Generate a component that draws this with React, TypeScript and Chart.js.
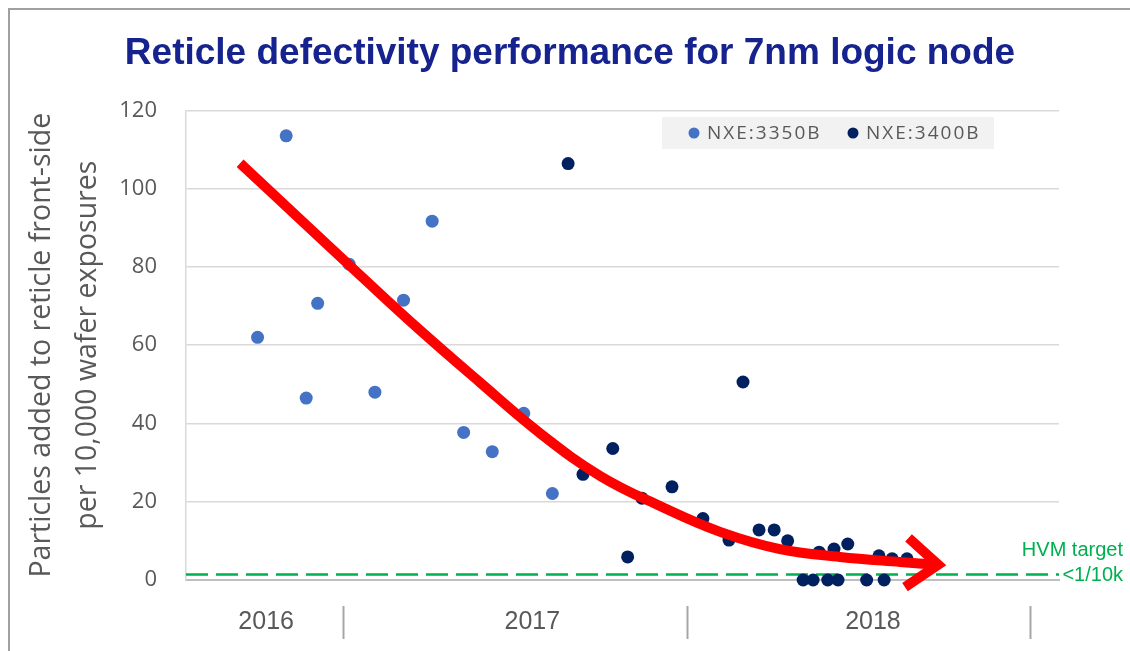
import React, { useEffect, useRef } from 'react';
import { Chart, registerables } from 'chart.js';

Chart.register(...registerables);

// ---------- data (x = months since Jan 2016) ----------
const TITLE = 'Reticle defectivity performance for 7nm logic node';
const Y_TITLE = ['Particles added to reticle front-side', 'per 10,000 wafer exposures'];
const SERIES_NAMES = ['NXE:3350B', 'NXE:3400B'];
const YEAR_LABELS = ['2016', '2017', '2018'];
const YEAR_LABEL_POS = [9.3, 18.6, 30.5];
const YEAR_BOUNDARIES = [12, 24, 36];
const X_MIN = 6.5;
const X_MAX = 37;
const Y_MIN = 0;
const Y_MAX = 120;
const Y_STEP = 20;

const NXE3350B_X = [9.0, 10.0, 10.7, 11.1, 12.2, 13.1, 14.1, 15.1, 16.2, 17.2, 18.3, 19.3];
const NXE3350B_Y = [62, 113.5, 46.5, 70.7, 80.7, 48, 71.5, 91.7, 37.7, 32.8, 42.6, 22.1];

const NXE3400B_X = [19.85, 20.37, 21.41, 21.93, 22.43, 23.48, 24.56, 25.47, 25.96, 26.52, 27.05, 27.52, 28.06, 28.41, 28.62, 28.92, 29.14, 29.28, 29.62, 30.28, 30.71, 30.89, 31.17, 31.69];
const NXE3400B_Y = [106.4, 27.0, 33.6, 5.9, 20.9, 23.8, 15.7, 10.2, 50.6, 12.8, 12.8, 10.0, 0, 0, 7.1, 0, 7.9, 0, 9.2, 0, 6.2, 0, 5.4, 5.4];

const TREND_X = [8.39, 10.48, 12.58, 14.68, 16.77, 18.87, 20.97, 23.06, 25.16, 27.25, 29.35, 31.45, 32.78];
const TREND_Y = [106.5, 92.2, 77.9, 63.8, 50.5, 37.5, 26.6, 18.9, 12.3, 7.9, 5.9, 4.6, 3.9];

const TARGET_VALUE = 1.4;
const TARGET_LABELS = ['HVM target', '<1/10k'];

// ---------- styles ----------
const C_LIGHT = '#4472c4';
const C_DARK = '#002060';
const C_RED = '#ff0000';
const C_GREEN = '#00b050';
const C_TEXT = '#595959';

const toPts = (xs: number[], ys: number[]) => xs.map((x, i) => ({ x, y: ys[i] }));

const decorPlugin = {
  id: 'decor',
  afterDatasetsDraw(chart: any) {
    const ctx = chart.ctx;
    const meta = chart.getDatasetMeta(0);
    const pts = meta.data;
    if (pts.length >= 2) {
      const p1 = pts[pts.length - 1];
      const p0 = pts[pts.length - 2];
      const ang = Math.atan2(p1.y - p0.y, p1.x - p0.x);
      const L = 40;
      const a = (38 * Math.PI) / 180;
      ctx.save();
      ctx.strokeStyle = C_RED;
      ctx.lineWidth = 10;
      ctx.lineJoin = 'miter';
      ctx.lineCap = 'butt';
      ctx.beginPath();
      ctx.moveTo(p1.x - L * Math.cos(ang - a), p1.y - L * Math.sin(ang - a));
      ctx.lineTo(p1.x, p1.y);
      ctx.lineTo(p1.x - L * Math.cos(ang + a), p1.y - L * Math.sin(ang + a));
      ctx.stroke();
      ctx.restore();
    }
  },
  afterDraw(chart: any) {
    const ctx = chart.ctx;
    const xs = chart.scales.x;
    const ys = chart.scales.y;
    const area = chart.chartArea;
    ctx.save();
    // year separators
    ctx.strokeStyle = '#a6a6a6';
    ctx.lineWidth = 2;
    YEAR_BOUNDARIES.forEach((v) => {
      const px = Math.round(xs.getPixelForValue(v)) + 0.5;
      ctx.beginPath();
      ctx.moveTo(px, area.bottom + 26);
      ctx.lineTo(px, area.bottom + 59);
      ctx.stroke();
    });
    // legend
    const bx = 652, by = 107, bw = 332, bh = 32;
    ctx.fillStyle = '#f2f2f2';
    ctx.fillRect(bx, by, bw, bh);
    const cy = by + bh / 2;
    const items = [
      { name: SERIES_NAMES[0], color: C_LIGHT, cx: 684 },
      { name: SERIES_NAMES[1], color: C_DARK, cx: 843 },
    ];
    ctx.font = '19px "Open Sans", sans-serif';
    try { (ctx as any).letterSpacing = '2px'; } catch (e) {}
    ctx.textBaseline = 'middle';
    ctx.textAlign = 'left';
    items.forEach((it) => {
      ctx.fillStyle = it.color;
      ctx.beginPath();
      ctx.arc(it.cx, cy, 5.5, 0, Math.PI * 2);
      ctx.fill();
      ctx.fillStyle = C_TEXT;
      ctx.fillText(it.name, it.cx + 13, cy + 1);
    });
    try { (ctx as any).letterSpacing = '0px'; } catch (e) {}
    // target labels
    const ty = ys.getPixelForValue(TARGET_VALUE);
    ctx.fillStyle = C_GREEN;
    ctx.font = '20px "Liberation Sans", Arial, sans-serif';
    ctx.textAlign = 'right';
    ctx.fillText(TARGET_LABELS[0], 1113, ty - 24);
    ctx.fillText(TARGET_LABELS[1], 1113, ty + 1);
    ctx.restore();
  },
};

export default function App() {
  const ref = useRef<HTMLCanvasElement>(null);
  useEffect(() => {
    if (!ref.current) return;
    const chart = new Chart(ref.current, {
      type: 'scatter',
      data: {
        datasets: [
          {
            label: 'trend',
            data: toPts(TREND_X, TREND_Y),
            showLine: true,
            borderColor: C_RED,
            borderWidth: 10,
            pointRadius: 0,
            tension: 0.4,
            borderCapStyle: 'butt',
            order: 0,
            clip: false,
          } as any,
          {
            label: SERIES_NAMES[0],
            data: toPts(NXE3350B_X, NXE3350B_Y),
            backgroundColor: C_LIGHT,
            borderWidth: 0,
            pointRadius: 6.5,
            order: 1,
            clip: false,
          },
          {
            label: SERIES_NAMES[1],
            data: toPts(NXE3400B_X, NXE3400B_Y),
            backgroundColor: C_DARK,
            borderWidth: 0,
            pointRadius: 6.5,
            order: 1,
            clip: false,
          },
          {
            label: 'HVM target',
            data: [
              { x: X_MIN, y: TARGET_VALUE },
              { x: X_MAX, y: TARGET_VALUE },
            ],
            showLine: true,
            borderColor: C_GREEN,
            borderWidth: 2.5,
            borderDash: [22, 8],
            pointRadius: 0,
            order: 2,
            clip: false,
          } as any,
        ],
      },
      options: {
        animation: false,
        responsive: false,
        layout: { padding: 0 },
        plugins: {
          legend: { display: false },
          tooltip: { enabled: false },
          title: {
            display: true,
            text: TITLE,
            color: '#16238f',
            font: { family: '"Liberation Sans", Arial, sans-serif', size: 37, weight: 'bold', lineHeight: 1.2 },
            padding: { top: 22, bottom: 34 },
          },
        },
        scales: {
          x: {
            type: 'linear',
            min: X_MIN,
            max: X_MAX,
            afterFit: (s: any) => { s.height = 71; },
            afterBuildTicks: (s: any) => { s.ticks = YEAR_LABEL_POS.map((v) => ({ value: v })); },
            grid: { display: false, drawTicks: false },
            border: { display: true, color: '#bfbfbf', width: 2 },
            ticks: {
              autoSkip: false,
              maxRotation: 0,
              padding: 27,
              color: C_TEXT,
              font: { family: '"Liberation Sans", Arial, sans-serif', size: 25 },
              callback: (_v: any, i: number) => YEAR_LABELS[i],
            },
          },
          y: {
            min: Y_MIN,
            max: Y_MAX,
            afterFit: (s: any) => { s.width = 176; },
            grid: { color: '#d9d9d9', lineWidth: 1.5, drawTicks: false },
            border: { display: true, color: '#d9d9d9', width: 1.5 },
            ticks: {
              stepSize: Y_STEP,
              padding: 29,
              color: C_TEXT,
              font: { family: '"Open Sans", sans-serif', size: 22 },
            },
            title: {
              display: true,
              text: Y_TITLE,
              color: C_TEXT,
              font: { family: '"Open Sans", sans-serif', size: 28.5, lineHeight: 1.614 },
              padding: { top: 9, bottom: 0 },
            },
          },
          yRightSpace: {
            type: 'linear',
            position: 'right',
            display: true,
            min: 0,
            max: 1,
            afterFit: (s: any) => { s.width = 71; },
            grid: { display: false, drawOnChartArea: false, drawTicks: false },
            border: { display: false },
            ticks: { display: false },
          },
        },
      } as any,
      plugins: [decorPlugin],
    });
    return () => chart.destroy();
  }, []);

  return (
    <div
      style={{
        position: 'absolute',
        left: 8,
        top: 8,
        width: 1122,
        height: 643,
        boxSizing: 'border-box',
        borderTop: '2px solid #a0a0a0',
        borderLeft: '2px solid #a0a0a0',
        background: '#fff',
      }}
    >
      <canvas ref={ref} width={1120} height={641} style={{ display: 'block' }} />
    </div>
  );
}
